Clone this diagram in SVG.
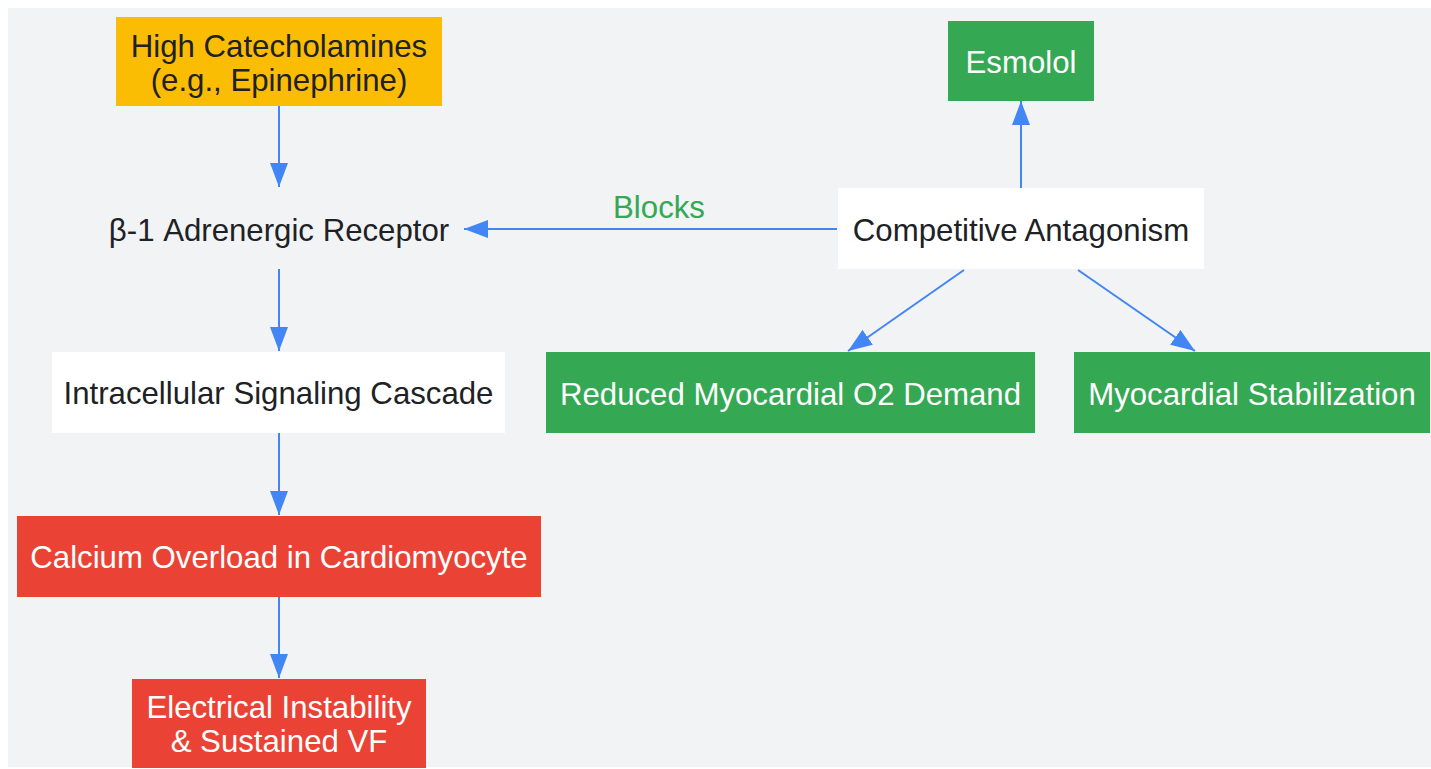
<svg xmlns="http://www.w3.org/2000/svg" width="1431" height="769" viewBox="0 0 1431 769">
<defs>
<style>
text{font-family:"Liberation Sans",Arial,sans-serif;font-size:31.2px;text-anchor:middle}
.dk{fill:#202124}
.wt{fill:#ffffff}
.edge{stroke:#4285f4;stroke-width:2;fill:none}
</style>
<marker id="ah" markerUnits="userSpaceOnUse" markerWidth="25" markerHeight="18" refX="24" refY="9" orient="auto">
<path d="M0,0 L24,9 L0,18 z" fill="#4285f4"/>
</marker>
</defs>
<rect x="0" y="0" width="1431" height="769" fill="#ffffff"/>
<rect x="8" y="8" width="1423" height="759" fill="#f1f3f4"/>
<g id="connectors">
<line class="edge" x1="279" y1="106" x2="279" y2="187" marker-end="url(#ah)"/>
<line class="edge" x1="279" y1="269" x2="279" y2="351" marker-end="url(#ah)"/>
<line class="edge" x1="279" y1="432" x2="279" y2="515" marker-end="url(#ah)"/>
<line class="edge" x1="279" y1="597" x2="279" y2="678" marker-end="url(#ah)"/>
<line class="edge" x1="837" y1="229" x2="464" y2="229" marker-end="url(#ah)"/>
<line class="edge" x1="1021" y1="188" x2="1021" y2="101" marker-end="url(#ah)"/>
<line class="edge" x1="964" y1="270" x2="848" y2="351" marker-end="url(#ah)"/>
<line class="edge" x1="1078" y1="270" x2="1195" y2="351" marker-end="url(#ah)"/>
<text x="659" y="218" style="fill:#34a853">Blocks</text>
</g>
<g id="catecholamines">
<rect x="116" y="17" width="326" height="89" fill="#fbbc04"/>
<text class="dk" x="279" y="57">High Catecholamines</text>
<text class="dk" x="279" y="91">(e.g., Epinephrine)</text>
</g>
<g id="receptor">
<text class="dk" x="279" y="241">β-1 Adrenergic Receptor</text>
</g>
<g id="signaling">
<rect x="52" y="352" width="453" height="81" fill="#ffffff"/>
<text class="dk" x="278.5" y="404">Intracellular Signaling Cascade</text>
</g>
<g id="calcium">
<rect x="17" y="516" width="524" height="81" fill="#ea4335"/>
<text class="wt" x="279" y="568">Calcium Overload in Cardiomyocyte</text>
</g>
<g id="instability">
<rect x="132" y="679" width="294" height="89" fill="#ea4335"/>
<text class="wt" x="279" y="718">Electrical Instability</text>
<text class="wt" x="279" y="752">&amp; Sustained VF</text>
</g>
<g id="esmolol">
<rect x="948" y="21" width="146" height="80" fill="#34a853"/>
<text class="wt" x="1021" y="73">Esmolol</text>
</g>
<g id="antagonism">
<rect x="838" y="188" width="366" height="81" fill="#ffffff"/>
<text class="dk" x="1021" y="241">Competitive Antagonism</text>
</g>
<g id="o2demand">
<rect x="546" y="352" width="489" height="81" fill="#34a853"/>
<text class="wt" x="790.5" y="405">Reduced Myocardial O2 Demand</text>
</g>
<g id="stabilization">
<rect x="1074" y="352" width="356" height="81" fill="#34a853"/>
<text class="wt" x="1252" y="405">Myocardial Stabilization</text>
</g>
</svg>
